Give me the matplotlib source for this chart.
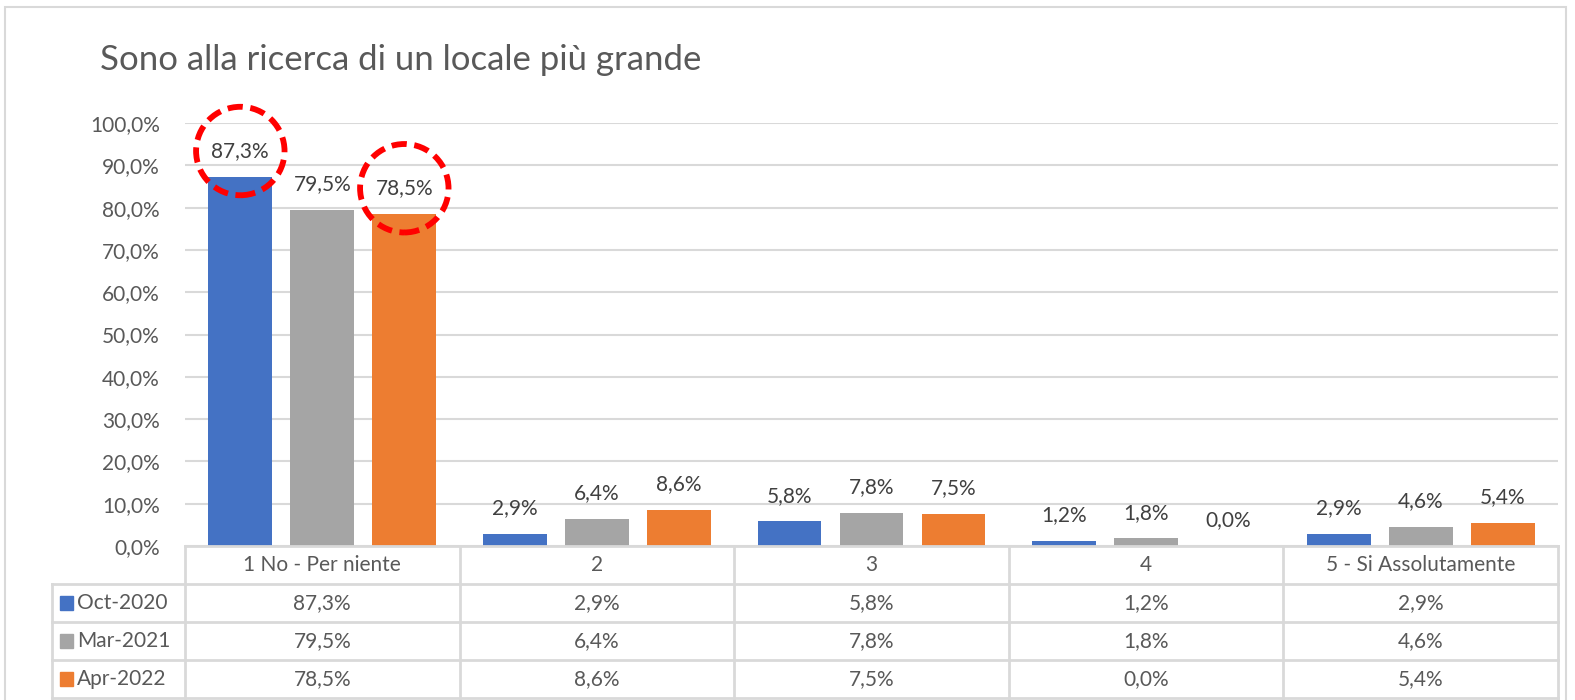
import matplotlib
matplotlib.use("Agg")
import matplotlib.pyplot as plt
import matplotlib.transforms as mtransforms
from matplotlib.lines import Line2D
from matplotlib.patches import Rectangle
import numpy as np

# ---- data ----
title = "Sono alla ricerca di un locale più grande"
categories = ["1 No - Per niente", "2", "3", "4", "5 - Si Assolutamente"]
series_names = ["Oct-2020", "Mar-2021", "Apr-2022"]
oct_2020 = [87.3, 2.9, 5.8, 1.2, 2.9]
mar_2021 = [79.5, 6.4, 7.8, 1.8, 4.6]
apr_2022 = [78.5, 8.6, 7.5, 0.0, 5.4]
y_ticks = [0, 10, 20, 30, 40, 50, 60, 70, 80, 90, 100]
highlighted = [(0, 0), (2, 0)]  # (series index, category index)

series = [oct_2020, mar_2021, apr_2022]
colors = ["#4472C4", "#A5A5A5", "#ED7D31"]

def fmt(v):
    return f"{v:.1f}%".replace(".", ",")

plt.rcParams["font.family"] = ["Lato", "DejaVu Sans"]
W, H = 1575, 700
fig = plt.figure(figsize=(W / 100, H / 100), dpi=100)

def fx(px):
    return px / W

def fy(py):
    return 1 - py / H

ax = fig.add_axes([fx(185), fy(546), fx(1558) - fx(185), fy(123) - fy(546)])
ax.set_xlim(-0.5, len(categories) - 0.5)
ax.set_ylim(0, 100)

text_col = "#595959"
label_col = "#404040"
grid_col = "#D9D9D9"
fs = 15

x = np.arange(len(categories))
bw = 0.233
step = 0.2986
for i, (vals, col) in enumerate(zip(series, colors)):
    xs = x + (i - 1) * step
    ax.bar(xs, vals, width=bw, color=col, zorder=3)
    for j, (xx, v) in enumerate(zip(xs, vals)):
        kw = {}
        if (i, j) in highlighted:
            kw["bbox"] = dict(boxstyle="circle,pad=0.74", fc="none", ec="#FF0000",
                              lw=4.2, ls=(0, (2.6, 1.3)))
        ax.annotate(fmt(v), xy=(xx, v), xytext=(0, 18.5), textcoords="offset points",
                    ha="center", va="center", fontsize=fs, color=label_col, zorder=5, **kw)

ax.set_yticks(y_ticks)
ax.set_yticklabels([fmt(t) for t in y_ticks], fontsize=fs, color=text_col)
ax.set_xticks([])
ax.tick_params(axis="y", length=0, pad=18)
ax.yaxis.grid(True, color=grid_col, lw=1.5, zorder=0)
ax.set_axisbelow(True)
for s in ax.spines.values():
    s.set_visible(False)

# title
fig.text(fx(100), fy(60), title, fontsize=25, color=text_col, va="center", ha="left")

# outer border
fig.add_artist(Rectangle((fx(5), fy(760)), fx(1566) - fx(5), fy(7) - fy(760),
                         transform=fig.transFigure, fill=False, ec=grid_col, lw=1.5))

# data table
trans = mtransforms.blended_transform_factory(ax.transData, fig.transFigure)
row_edges = [546, 584, 622, 660, 698]
bounds = np.arange(len(categories) + 1) - 0.5
tl = dict(color=grid_col, lw=2)
for k, ry in enumerate(row_edges):
    fig.add_artist(Line2D([bounds[0], bounds[-1]], [fy(ry), fy(ry)], transform=trans, **tl))
    if k >= 1:
        fig.add_artist(Line2D([fx(52), fx(185)], [fy(ry), fy(ry)], transform=fig.transFigure, **tl))
for b in bounds:
    fig.add_artist(Line2D([b, b], [fy(row_edges[0]), fy(row_edges[-1])], transform=trans, **tl))
fig.add_artist(Line2D([fx(52), fx(52)], [fy(row_edges[1]), fy(row_edges[-1])],
                      transform=fig.transFigure, **tl))

for j, c in enumerate(categories):
    fig.text(x[j], fy((row_edges[0] + row_edges[1]) / 2), c, transform=trans,
             ha="center", va="center", fontsize=fs, color=text_col)
for i, (name, vals, col) in enumerate(zip(series_names, series, colors)):
    yc = fy((row_edges[i + 1] + row_edges[i + 2]) / 2)
    fig.add_artist(Rectangle((fx(60), yc - 7 / H), 13 / W, 14 / H,
                             transform=fig.transFigure, color=col))
    fig.text(fx(77), yc, name, ha="left", va="center", fontsize=fs, color=text_col)
    for j, v in enumerate(vals):
        fig.text(x[j], yc, fmt(v), transform=trans, ha="center", va="center",
                 fontsize=fs, color=text_col)

fig.savefig("out.png", dpi=100, facecolor="white")
